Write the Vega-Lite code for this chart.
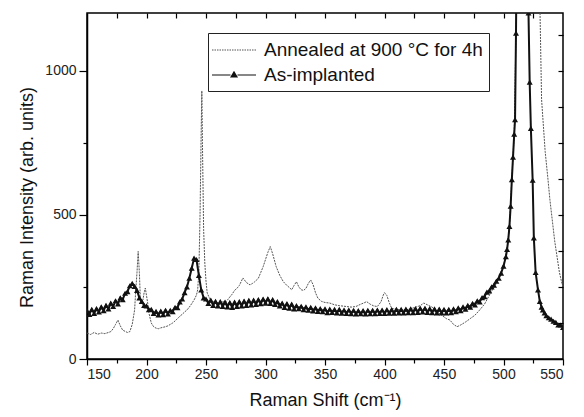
{
  "$schema": "https://vega.github.io/schema/vega-lite/v6.json",
  "autosize": {"type": "none"},
  "width": 476,
  "height": 346,
  "padding": {"left": 87, "top": 13, "right": 21, "bottom": 58},
  "background": "white",
  "config": {
    "font": "Liberation Sans",
    "view": {"stroke": "#000", "strokeWidth": 1.5},
    "axis": {"grid": false, "domainColor": "#000", "domainWidth": 1.5, "tickColor": "#000", "tickWidth": 1.2, "labelColor": "#222", "titleColor": "#111", "labelFontSize": 14, "titleFontSize": 18, "titleFontWeight": "normal"}
  },
  "datasets": {
    "spectra": [
      {"s":"As-implanted","x":150,"y":168},{"s":"As-implanted","x":152,"y":155},{"s":"As-implanted","x":154,"y":172},{"s":"As-implanted","x":156,"y":158},{"s":"As-implanted","x":158,"y":175},{"s":"As-implanted","x":160,"y":163},{"s":"As-implanted","x":162,"y":181},{"s":"As-implanted","x":164,"y":168},{"s":"As-implanted","x":166,"y":186},{"s":"As-implanted","x":168,"y":174},{"s":"As-implanted","x":170,"y":194},{"s":"As-implanted","x":172,"y":182},{"s":"As-implanted","x":174,"y":202},{"s":"As-implanted","x":176,"y":191},{"s":"As-implanted","x":178,"y":212},{"s":"As-implanted","x":180,"y":206},{"s":"As-implanted","x":182,"y":228},{"s":"As-implanted","x":184,"y":234},{"s":"As-implanted","x":186,"y":254},{"s":"As-implanted","x":188,"y":262},{"s":"As-implanted","x":190,"y":252},{"s":"As-implanted","x":192,"y":238},{"s":"As-implanted","x":194,"y":212},{"s":"As-implanted","x":196,"y":200},{"s":"As-implanted","x":198,"y":186},{"s":"As-implanted","x":200,"y":184},{"s":"As-implanted","x":202,"y":171},{"s":"As-implanted","x":204,"y":172},{"s":"As-implanted","x":206,"y":158},{"s":"As-implanted","x":208,"y":165},{"s":"As-implanted","x":210,"y":153},{"s":"As-implanted","x":212,"y":166},{"s":"As-implanted","x":214,"y":154},{"s":"As-implanted","x":216,"y":169},{"s":"As-implanted","x":218,"y":156},{"s":"As-implanted","x":220,"y":169},{"s":"As-implanted","x":222,"y":164},{"s":"As-implanted","x":224,"y":179},{"s":"As-implanted","x":226,"y":178},{"s":"As-implanted","x":228,"y":198},{"s":"As-implanted","x":230,"y":208},{"s":"As-implanted","x":232,"y":230},{"s":"As-implanted","x":234,"y":250},{"s":"As-implanted","x":236,"y":280},{"s":"As-implanted","x":238,"y":315},{"s":"As-implanted","x":240,"y":350},{"s":"As-implanted","x":242,"y":345},{"s":"As-implanted","x":244,"y":290},{"s":"As-implanted","x":246,"y":240},{"s":"As-implanted","x":248,"y":212},{"s":"As-implanted","x":250,"y":208},{"s":"As-implanted","x":252,"y":193},{"s":"As-implanted","x":254,"y":204},{"s":"As-implanted","x":256,"y":186},{"s":"As-implanted","x":258,"y":200},{"s":"As-implanted","x":260,"y":184},{"s":"As-implanted","x":262,"y":199},{"s":"As-implanted","x":264,"y":182},{"s":"As-implanted","x":266,"y":197},{"s":"As-implanted","x":268,"y":181},{"s":"As-implanted","x":270,"y":196},{"s":"As-implanted","x":272,"y":179},{"s":"As-implanted","x":274,"y":197},{"s":"As-implanted","x":276,"y":182},{"s":"As-implanted","x":278,"y":199},{"s":"As-implanted","x":280,"y":184},{"s":"As-implanted","x":282,"y":201},{"s":"As-implanted","x":284,"y":186},{"s":"As-implanted","x":286,"y":203},{"s":"As-implanted","x":288,"y":188},{"s":"As-implanted","x":290,"y":204},{"s":"As-implanted","x":292,"y":189},{"s":"As-implanted","x":294,"y":206},{"s":"As-implanted","x":296,"y":192},{"s":"As-implanted","x":298,"y":208},{"s":"As-implanted","x":300,"y":194},{"s":"As-implanted","x":302,"y":209},{"s":"As-implanted","x":304,"y":193},{"s":"As-implanted","x":306,"y":206},{"s":"As-implanted","x":308,"y":189},{"s":"As-implanted","x":310,"y":199},{"s":"As-implanted","x":312,"y":184},{"s":"As-implanted","x":314,"y":194},{"s":"As-implanted","x":316,"y":179},{"s":"As-implanted","x":318,"y":192},{"s":"As-implanted","x":320,"y":176},{"s":"As-implanted","x":322,"y":190},{"s":"As-implanted","x":324,"y":174},{"s":"As-implanted","x":326,"y":185},{"s":"As-implanted","x":328,"y":175},{"s":"As-implanted","x":330,"y":183},{"s":"As-implanted","x":332,"y":171},{"s":"As-implanted","x":334,"y":181},{"s":"As-implanted","x":336,"y":169},{"s":"As-implanted","x":338,"y":179},{"s":"As-implanted","x":340,"y":167},{"s":"As-implanted","x":342,"y":177},{"s":"As-implanted","x":344,"y":165},{"s":"As-implanted","x":346,"y":175},{"s":"As-implanted","x":348,"y":164},{"s":"As-implanted","x":350,"y":174},{"s":"As-implanted","x":352,"y":161},{"s":"As-implanted","x":354,"y":173},{"s":"As-implanted","x":356,"y":162},{"s":"As-implanted","x":358,"y":172},{"s":"As-implanted","x":360,"y":160},{"s":"As-implanted","x":362,"y":172},{"s":"As-implanted","x":364,"y":159},{"s":"As-implanted","x":366,"y":170},{"s":"As-implanted","x":368,"y":158},{"s":"As-implanted","x":370,"y":170},{"s":"As-implanted","x":372,"y":157},{"s":"As-implanted","x":374,"y":169},{"s":"As-implanted","x":376,"y":156},{"s":"As-implanted","x":378,"y":168},{"s":"As-implanted","x":380,"y":157},{"s":"As-implanted","x":382,"y":168},{"s":"As-implanted","x":384,"y":156},{"s":"As-implanted","x":386,"y":169},{"s":"As-implanted","x":388,"y":157},{"s":"As-implanted","x":390,"y":169},{"s":"As-implanted","x":392,"y":157},{"s":"As-implanted","x":394,"y":170},{"s":"As-implanted","x":396,"y":158},{"s":"As-implanted","x":398,"y":170},{"s":"As-implanted","x":400,"y":158},{"s":"As-implanted","x":402,"y":171},{"s":"As-implanted","x":404,"y":159},{"s":"As-implanted","x":406,"y":171},{"s":"As-implanted","x":408,"y":159},{"s":"As-implanted","x":410,"y":172},{"s":"As-implanted","x":412,"y":160},{"s":"As-implanted","x":414,"y":172},{"s":"As-implanted","x":416,"y":160},{"s":"As-implanted","x":418,"y":173},{"s":"As-implanted","x":420,"y":161},{"s":"As-implanted","x":422,"y":174},{"s":"As-implanted","x":424,"y":161},{"s":"As-implanted","x":426,"y":175},{"s":"As-implanted","x":428,"y":162},{"s":"As-implanted","x":430,"y":176},{"s":"As-implanted","x":432,"y":163},{"s":"As-implanted","x":434,"y":176},{"s":"As-implanted","x":436,"y":162},{"s":"As-implanted","x":438,"y":175},{"s":"As-implanted","x":440,"y":161},{"s":"As-implanted","x":442,"y":174},{"s":"As-implanted","x":444,"y":160},{"s":"As-implanted","x":446,"y":173},{"s":"As-implanted","x":448,"y":160},{"s":"As-implanted","x":450,"y":172},{"s":"As-implanted","x":452,"y":160},{"s":"As-implanted","x":454,"y":172},{"s":"As-implanted","x":456,"y":161},{"s":"As-implanted","x":458,"y":174},{"s":"As-implanted","x":460,"y":164},{"s":"As-implanted","x":462,"y":177},{"s":"As-implanted","x":464,"y":168},{"s":"As-implanted","x":466,"y":181},{"s":"As-implanted","x":468,"y":173},{"s":"As-implanted","x":470,"y":186},{"s":"As-implanted","x":472,"y":180},{"s":"As-implanted","x":474,"y":193},{"s":"As-implanted","x":476,"y":188},{"s":"As-implanted","x":478,"y":202},{"s":"As-implanted","x":480,"y":198},{"s":"As-implanted","x":482,"y":213},{"s":"As-implanted","x":484,"y":216},{"s":"As-implanted","x":486,"y":232},{"s":"As-implanted","x":488,"y":236},{"s":"As-implanted","x":490,"y":250},{"s":"As-implanted","x":492,"y":256},{"s":"As-implanted","x":494,"y":270},{"s":"As-implanted","x":496,"y":280},{"s":"As-implanted","x":498,"y":298},{"s":"As-implanted","x":500,"y":322},{"s":"As-implanted","x":502,"y":355},{"s":"As-implanted","x":503,"y":380},{"s":"As-implanted","x":504,"y":413},{"s":"As-implanted","x":505,"y":460},{"s":"As-implanted","x":506,"y":530},{"s":"As-implanted","x":507,"y":622},{"s":"As-implanted","x":508,"y":700},{"s":"As-implanted","x":509,"y":780},{"s":"As-implanted","x":509.7,"y":830},{"s":"As-implanted","x":510.5,"y":1130},{"s":"As-implanted","x":512,"y":1900},{"s":"As-implanted","x":515.5,"y":2800},{"s":"As-implanted","x":519,"y":1900},{"s":"As-implanted","x":521,"y":1200},{"s":"As-implanted","x":522,"y":960},{"s":"As-implanted","x":523,"y":800},{"s":"As-implanted","x":524.5,"y":620},{"s":"As-implanted","x":525.5,"y":420},{"s":"As-implanted","x":527,"y":300},{"s":"As-implanted","x":529,"y":240},{"s":"As-implanted","x":530.5,"y":200},{"s":"As-implanted","x":532,"y":180},{"s":"As-implanted","x":533,"y":170},{"s":"As-implanted","x":534.5,"y":160},{"s":"As-implanted","x":536,"y":150},{"s":"As-implanted","x":538,"y":143},{"s":"As-implanted","x":540,"y":138},{"s":"As-implanted","x":542,"y":131},{"s":"As-implanted","x":544,"y":127},{"s":"As-implanted","x":546,"y":118},{"s":"As-implanted","x":548,"y":118},{"s":"As-implanted","x":550,"y":110},
      {"s":"Annealed at 900 °C for 4h","x":150,"y":90},{"s":"Annealed at 900 °C for 4h","x":153,"y":85},{"s":"Annealed at 900 °C for 4h","x":156,"y":92},{"s":"Annealed at 900 °C for 4h","x":159,"y":86},{"s":"Annealed at 900 °C for 4h","x":162,"y":90},{"s":"Annealed at 900 °C for 4h","x":165,"y":88},{"s":"Annealed at 900 °C for 4h","x":168,"y":92},{"s":"Annealed at 900 °C for 4h","x":170,"y":95},{"s":"Annealed at 900 °C for 4h","x":172,"y":105},{"s":"Annealed at 900 °C for 4h","x":174,"y":120},{"s":"Annealed at 900 °C for 4h","x":176,"y":135},{"s":"Annealed at 900 °C for 4h","x":178,"y":115},{"s":"Annealed at 900 °C for 4h","x":180,"y":100},{"s":"Annealed at 900 °C for 4h","x":182,"y":96},{"s":"Annealed at 900 °C for 4h","x":184,"y":92},{"s":"Annealed at 900 °C for 4h","x":186,"y":95},{"s":"Annealed at 900 °C for 4h","x":188,"y":120},{"s":"Annealed at 900 °C for 4h","x":190,"y":170},{"s":"Annealed at 900 °C for 4h","x":191,"y":240},{"s":"Annealed at 900 °C for 4h","x":192,"y":300},{"s":"Annealed at 900 °C for 4h","x":193,"y":373},{"s":"Annealed at 900 °C for 4h","x":194,"y":300},{"s":"Annealed at 900 °C for 4h","x":195,"y":192},{"s":"Annealed at 900 °C for 4h","x":196,"y":200},{"s":"Annealed at 900 °C for 4h","x":197,"y":205},{"s":"Annealed at 900 °C for 4h","x":198,"y":230},{"s":"Annealed at 900 °C for 4h","x":199,"y":246},{"s":"Annealed at 900 °C for 4h","x":200,"y":220},{"s":"Annealed at 900 °C for 4h","x":201,"y":194},{"s":"Annealed at 900 °C for 4h","x":202,"y":160},{"s":"Annealed at 900 °C for 4h","x":204,"y":125},{"s":"Annealed at 900 °C for 4h","x":206,"y":112},{"s":"Annealed at 900 °C for 4h","x":208,"y":107},{"s":"Annealed at 900 °C for 4h","x":210,"y":105},{"s":"Annealed at 900 °C for 4h","x":212,"y":108},{"s":"Annealed at 900 °C for 4h","x":214,"y":110},{"s":"Annealed at 900 °C for 4h","x":216,"y":112},{"s":"Annealed at 900 °C for 4h","x":218,"y":115},{"s":"Annealed at 900 °C for 4h","x":220,"y":120},{"s":"Annealed at 900 °C for 4h","x":222,"y":125},{"s":"Annealed at 900 °C for 4h","x":224,"y":132},{"s":"Annealed at 900 °C for 4h","x":226,"y":140},{"s":"Annealed at 900 °C for 4h","x":228,"y":148},{"s":"Annealed at 900 °C for 4h","x":230,"y":155},{"s":"Annealed at 900 °C for 4h","x":232,"y":163},{"s":"Annealed at 900 °C for 4h","x":234,"y":170},{"s":"Annealed at 900 °C for 4h","x":236,"y":180},{"s":"Annealed at 900 °C for 4h","x":238,"y":192},{"s":"Annealed at 900 °C for 4h","x":240,"y":205},{"s":"Annealed at 900 °C for 4h","x":242,"y":222},{"s":"Annealed at 900 °C for 4h","x":243,"y":240},{"s":"Annealed at 900 °C for 4h","x":244,"y":300},{"s":"Annealed at 900 °C for 4h","x":245,"y":500},{"s":"Annealed at 900 °C for 4h","x":246,"y":800},{"s":"Annealed at 900 °C for 4h","x":246.5,"y":930},{"s":"Annealed at 900 °C for 4h","x":247,"y":750},{"s":"Annealed at 900 °C for 4h","x":248,"y":450},{"s":"Annealed at 900 °C for 4h","x":249,"y":333},{"s":"Annealed at 900 °C for 4h","x":250,"y":270},{"s":"Annealed at 900 °C for 4h","x":251,"y":229},{"s":"Annealed at 900 °C for 4h","x":253,"y":210},{"s":"Annealed at 900 °C for 4h","x":256,"y":199},{"s":"Annealed at 900 °C for 4h","x":260,"y":195},{"s":"Annealed at 900 °C for 4h","x":264,"y":198},{"s":"Annealed at 900 °C for 4h","x":267,"y":199},{"s":"Annealed at 900 °C for 4h","x":270,"y":215},{"s":"Annealed at 900 °C for 4h","x":272,"y":225},{"s":"Annealed at 900 °C for 4h","x":274,"y":238},{"s":"Annealed at 900 °C for 4h","x":276,"y":245},{"s":"Annealed at 900 °C for 4h","x":278,"y":255},{"s":"Annealed at 900 °C for 4h","x":281,"y":281},{"s":"Annealed at 900 °C for 4h","x":284,"y":265},{"s":"Annealed at 900 °C for 4h","x":287,"y":257},{"s":"Annealed at 900 °C for 4h","x":289,"y":262},{"s":"Annealed at 900 °C for 4h","x":291,"y":268},{"s":"Annealed at 900 °C for 4h","x":294,"y":280},{"s":"Annealed at 900 °C for 4h","x":296,"y":300},{"s":"Annealed at 900 °C for 4h","x":298,"y":320},{"s":"Annealed at 900 °C for 4h","x":300,"y":345},{"s":"Annealed at 900 °C for 4h","x":302,"y":370},{"s":"Annealed at 900 °C for 4h","x":304,"y":390},{"s":"Annealed at 900 °C for 4h","x":306,"y":365},{"s":"Annealed at 900 °C for 4h","x":309,"y":320},{"s":"Annealed at 900 °C for 4h","x":312,"y":290},{"s":"Annealed at 900 °C for 4h","x":315,"y":268},{"s":"Annealed at 900 °C for 4h","x":318,"y":255},{"s":"Annealed at 900 °C for 4h","x":320,"y":248},{"s":"Annealed at 900 °C for 4h","x":322,"y":240},{"s":"Annealed at 900 °C for 4h","x":324,"y":255},{"s":"Annealed at 900 °C for 4h","x":326,"y":268},{"s":"Annealed at 900 °C for 4h","x":328,"y":250},{"s":"Annealed at 900 °C for 4h","x":330,"y":240},{"s":"Annealed at 900 °C for 4h","x":332,"y":238},{"s":"Annealed at 900 °C for 4h","x":334,"y":245},{"s":"Annealed at 900 °C for 4h","x":336,"y":262},{"s":"Annealed at 900 °C for 4h","x":338,"y":274},{"s":"Annealed at 900 °C for 4h","x":340,"y":258},{"s":"Annealed at 900 °C for 4h","x":342,"y":230},{"s":"Annealed at 900 °C for 4h","x":344,"y":211},{"s":"Annealed at 900 °C for 4h","x":347,"y":200},{"s":"Annealed at 900 °C for 4h","x":350,"y":196},{"s":"Annealed at 900 °C for 4h","x":354,"y":194},{"s":"Annealed at 900 °C for 4h","x":358,"y":188},{"s":"Annealed at 900 °C for 4h","x":362,"y":185},{"s":"Annealed at 900 °C for 4h","x":368,"y":182},{"s":"Annealed at 900 °C for 4h","x":372,"y":180},{"s":"Annealed at 900 °C for 4h","x":376,"y":182},{"s":"Annealed at 900 °C for 4h","x":380,"y":190},{"s":"Annealed at 900 °C for 4h","x":383,"y":195},{"s":"Annealed at 900 °C for 4h","x":385,"y":199},{"s":"Annealed at 900 °C for 4h","x":388,"y":190},{"s":"Annealed at 900 °C for 4h","x":391,"y":184},{"s":"Annealed at 900 °C for 4h","x":394,"y":182},{"s":"Annealed at 900 °C for 4h","x":397,"y":198},{"s":"Annealed at 900 °C for 4h","x":399,"y":222},{"s":"Annealed at 900 °C for 4h","x":400,"y":230},{"s":"Annealed at 900 °C for 4h","x":402,"y":220},{"s":"Annealed at 900 °C for 4h","x":404,"y":195},{"s":"Annealed at 900 °C for 4h","x":406,"y":176},{"s":"Annealed at 900 °C for 4h","x":410,"y":172},{"s":"Annealed at 900 °C for 4h","x":415,"y":170},{"s":"Annealed at 900 °C for 4h","x":420,"y":172},{"s":"Annealed at 900 °C for 4h","x":425,"y":178},{"s":"Annealed at 900 °C for 4h","x":430,"y":185},{"s":"Annealed at 900 °C for 4h","x":433,"y":194},{"s":"Annealed at 900 °C for 4h","x":436,"y":188},{"s":"Annealed at 900 °C for 4h","x":440,"y":180},{"s":"Annealed at 900 °C for 4h","x":444,"y":165},{"s":"Annealed at 900 °C for 4h","x":448,"y":152},{"s":"Annealed at 900 °C for 4h","x":452,"y":140},{"s":"Annealed at 900 °C for 4h","x":455,"y":135},{"s":"Annealed at 900 °C for 4h","x":458,"y":120},{"s":"Annealed at 900 °C for 4h","x":461,"y":112},{"s":"Annealed at 900 °C for 4h","x":464,"y":118},{"s":"Annealed at 900 °C for 4h","x":468,"y":128},{"s":"Annealed at 900 °C for 4h","x":472,"y":140},{"s":"Annealed at 900 °C for 4h","x":476,"y":152},{"s":"Annealed at 900 °C for 4h","x":480,"y":170},{"s":"Annealed at 900 °C for 4h","x":484,"y":190},{"s":"Annealed at 900 °C for 4h","x":486,"y":205},{"s":"Annealed at 900 °C for 4h","x":490,"y":235},{"s":"Annealed at 900 °C for 4h","x":494,"y":262},{"s":"Annealed at 900 °C for 4h","x":497,"y":290},{"s":"Annealed at 900 °C for 4h","x":500,"y":322},{"s":"Annealed at 900 °C for 4h","x":503,"y":380},{"s":"Annealed at 900 °C for 4h","x":505,"y":460},{"s":"Annealed at 900 °C for 4h","x":507,"y":622},{"s":"Annealed at 900 °C for 4h","x":509,"y":780},{"s":"Annealed at 900 °C for 4h","x":511,"y":1250},{"s":"Annealed at 900 °C for 4h","x":514,"y":2500},{"s":"Annealed at 900 °C for 4h","x":520,"y":4000},{"s":"Annealed at 900 °C for 4h","x":526,"y":2500},{"s":"Annealed at 900 °C for 4h","x":530.7,"y":1200},{"s":"Annealed at 900 °C for 4h","x":532,"y":900},{"s":"Annealed at 900 °C for 4h","x":535,"y":720},{"s":"Annealed at 900 °C for 4h","x":537.4,"y":622},{"s":"Annealed at 900 °C for 4h","x":539,"y":552},{"s":"Annealed at 900 °C for 4h","x":543,"y":410},{"s":"Annealed at 900 °C for 4h","x":547,"y":300},{"s":"Annealed at 900 °C for 4h","x":549,"y":264},{"s":"Annealed at 900 °C for 4h","x":550,"y":250}
    ]
  },
  "data": {"name": "spectra"},
  "resolve": {"axis": {"x": "independent", "y": "independent"}},
  "layer": [
    {
      "transform": [{"filter": "datum.s === 'Annealed at 900 °C for 4h'"}],
      "mark": {"type": "line", "clip": true, "strokeWidth": 1, "strokeDash": [2, 1], "interpolate": "linear"},
      "encoding": {
        "x": {"field": "x", "type": "quantitative", "scale": {"domain": [150, 550], "nice": false, "zero": false},
          "axis": {"orient": "bottom", "values": [150,175,200,225,250,275,300,325,350,375,400,425,450,475,500,525,550],
            "labelExpr": "datum.value % 50 === 0 ? datum.label : ''",
            "tickSize": {"condition": {"test": "datum.value % 50 === 0", "value": 6}, "value": 4},
            "labelPadding": 2, "title": "Raman Shift (cm⁻¹)", "titlePadding": 10}},
        "y": {"field": "y", "type": "quantitative", "scale": {"domain": [0, 1200], "nice": false},
          "axis": {"orient": "left", "values": [0, 250, 500, 750, 1000],
            "labelExpr": "datum.value % 500 === 0 ? datum.label : ''",
            "tickSize": {"condition": {"test": "datum.value % 500 === 0", "value": 8}, "value": 4},
            "labelPadding": 3, "title": "Raman Intensity (arb. units)", "titlePadding": 8, "titleY": 184, "format": "d"}},
        "color": {"field": "s", "type": "nominal",
          "scale": {"domain": ["Annealed at 900 °C for 4h", "As-implanted"], "range": ["#555555", "#111111"]},
          "legend": {"orient": "none", "legendX": 121, "legendY": 20, "title": null,
            "strokeColor": "#222", "fillColor": "white", "padding": 6, "rowPadding": 4,
            "labelFontSize": 19, "labelColor": "#111", "labelLimit": 600, "labelOffset": 19,
            "symbolSize": 400, "symbolOffset": 9, "symbolStrokeWidth": 1.2,
            "encode": {"symbols": {"update": {
              "shape": {"signal": "datum.value === 'As-implanted' ? 'M-2.2,0H-0.35M0.35,0H2.2M-0.3,0.2L0,-0.3L0.3,0.2Z' : 'M-2.2,0H2.2'"},
              "fill": {"signal": "datum.value === 'As-implanted' ? '#111' : 'transparent'"},
              "stroke": {"signal": "datum.value === 'As-implanted' ? '#111' : '#666'"},
              "strokeDash": {"signal": "datum.value === 'As-implanted' ? [] : [1.5, 1]"}
            }}}}}
      }
    },
    {
      "transform": [{"filter": "datum.s === 'As-implanted'"}],
      "mark": {"type": "line", "clip": true, "strokeWidth": 2},
      "encoding": {
        "x": {"field": "x", "type": "quantitative", "axis": null},
        "y": {"field": "y", "type": "quantitative", "axis": null},
        "color": {"field": "s", "type": "nominal"}
      }
    },
    {
      "transform": [{"filter": "datum.s === 'As-implanted'"}],
      "mark": {"type": "point", "clip": true, "shape": "triangle-up", "filled": true, "size": 36, "color": "#111", "opacity": 1},
      "encoding": {
        "x": {"field": "x", "type": "quantitative",
          "axis": {"orient": "top", "values": [175,200,225,250,275,300,325,350,375,400,425,450,475,500,525], "labels": false, "title": null, "tickSize": 5, "offset": -5, "domain": false, "zindex": 1}},
        "y": {"field": "y", "type": "quantitative",
          "axis": {"orient": "right", "values": [125,250,375,500,625,750,875,1000,1125], "labels": false, "title": null, "tickSize": 5, "offset": -5, "domain": false, "zindex": 1}}
      }
    }
  ]
}
